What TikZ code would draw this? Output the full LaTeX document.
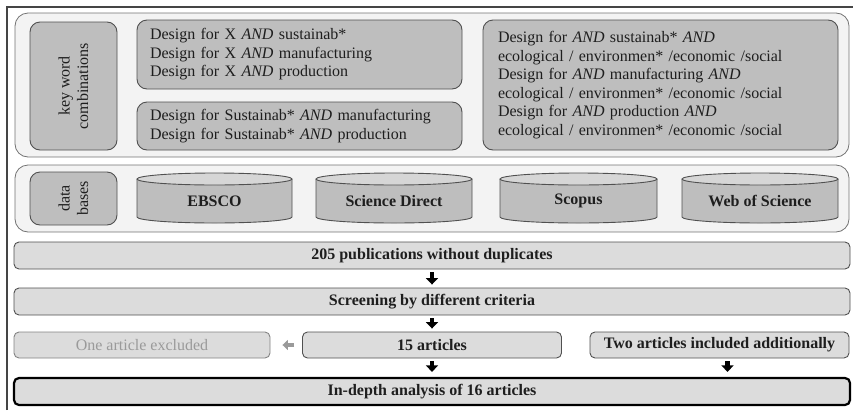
\documentclass[tikz,border=0pt]{standalone}
\usepackage{fontspec}
\setmainfont{Liberation Serif}
\usetikzlibrary{arrows.meta}
\definecolor{boxfill}{HTML}{BEBEBE}
\definecolor{panelfill}{HTML}{F3F3F3}
\definecolor{barfill}{HTML}{DCDCDC}
\definecolor{edge}{HTML}{505050}
\definecolor{txt}{HTML}{1E1E1E}
\definecolor{frame}{HTML}{454545}
\definecolor{cyltopfill}{HTML}{D6D6D6}
\definecolor{faded}{HTML}{9A9A9A}
\newcommand{\dbcyl}[4]{%
  \pgfmathsetmacro\cylmid{(#2+#3)/2}%
  \pgfmathsetmacro\cylrad{(#3-#2)/2}%
  \draw[cylbody] (#2,179) -- (#2,217) arc[start angle=180,end angle=0,x radius=\cylrad,y radius=6] -- (#3,179);
  \draw[cyltop] (\cylmid,179) ellipse[x radius=\cylrad, y radius=6];
  \node[dblabel] (#1) at (\cylmid,201) {#4};
}
\begin{document}
\begin{tikzpicture}[x=1pt,y=-1pt,
  font=\fontsize{16}{18.5}\selectfont,
  panel/.style={draw=edge!80, fill=panelfill, rounded corners=13pt, line width=0.8pt, inner sep=0pt},
  kbox/.style={draw=edge, fill=boxfill, rounded corners=10pt, line width=0.9pt, inner sep=0pt, text=txt},
  cylbody/.style={draw=edge, fill=boxfill, line width=0.9pt},
  cyltop/.style={draw=edge, fill=cyltopfill, line width=0.9pt},
  dblabel/.style={font=\fontsize{16}{18}\selectfont\bfseries, text=txt},
  bar/.style={draw=edge, fill=barfill, rounded corners=5pt, line width=0.9pt, inner sep=0pt, text=txt, font=\fontsize{16}{18}\selectfont\bfseries},
  arr/.style={line width=4.5pt, -{Triangle[width=12pt,length=6.5pt]}, black},
]
\useasboundingbox (0,0) rectangle (853,410);
\draw[frame, line width=1.6pt] (7,410) -- (7,7) -- (853,7);

% key word panel
\node[panel, minimum width=834pt, minimum height=144pt] (p1) at (432,85) {};
\node[kbox, rotate=90, minimum width=128pt, minimum height=87pt, align=center] (kw) at (73.5,86) {key word\\combinations};
\node[kbox, minimum width=325pt, minimum height=69pt, inner xsep=13pt, text width=299pt, align=left] (bA) at (299.5,54.5)
  {Design for X \textit{AND} sustainab*\\Design for X \textit{AND} manufacturing\\Design for X \textit{AND} production};
\node[kbox, minimum width=325pt, minimum height=48pt, inner xsep=13pt, text width=299pt, align=left] (bB) at (299.5,126)
  {Design for Sustainab* \textit{AND} manufacturing\\Design for Sustainab* \textit{AND} production};
\node[kbox, minimum width=355pt, minimum height=130pt, inner xsep=15pt, text width=325pt, align=left] (bC) at (660.5,85)
  {Design for \textit{AND} sustainab* \textit{AND}\\ecological / environmen* /economic /social\\Design for \textit{AND} manufacturing \textit{AND}\\ecological / environmen* /economic /social\\Design for \textit{AND} production \textit{AND}\\ecological / environmen* /economic /social};

% data bases panel
\node[panel, minimum width=834pt, minimum height=67pt] (p2) at (432,198.5) {};
\node[kbox, rotate=90, minimum width=53pt, minimum height=87pt, align=center] (db) at (73.5,198.5) {data\\bases};
\dbcyl{ebsco}{137}{292}{EBSCO}
\dbcyl{sd}{316}{472}{Science Direct}
\dbcyl{scopus}{500}{657}{Scopus}
\dbcyl{wos}{682}{838}{Web of Science}

% flow
\node[bar, minimum width=836pt, minimum height=27pt] (b1) at (432,255.5) {205 publications without duplicates};
\node[bar, minimum width=836pt, minimum height=27pt] (b2) at (432,301.5) {Screening by different criteria};
\node[bar, minimum width=256pt, minimum height=26pt, font=\fontsize{16}{18}\selectfont, text=faded, draw=edge!70] (excl) at (142,345) {One article excluded};
\node[bar, minimum width=259pt, minimum height=26pt] (fif) at (432,345) {15 articles};
\node[bar, minimum width=259pt, minimum height=26pt] (two) at (719.5,345) {Two articles included additionally};
\node[bar, minimum width=836pt, minimum height=27pt, draw=black, line width=2.2pt] (fin) at (432,391.5) {In-depth analysis of 16 articles};

\draw[arr, shorten <=3pt, shorten >=3pt] (b1.south) -- (b2.north);
\draw[arr, shorten <=3pt, shorten >=3pt] (b2.south) -- (fif.north);
\draw[arr, shorten <=3pt, shorten >=5pt] (fif.south) -- (fif.south |- fin.north);
\coordinate (twoarr) at ([xshift=8pt]two.south);
\draw[arr, shorten <=3pt, shorten >=5pt] (twoarr) -- (twoarr |- fin.north);
\draw[arr, faded, line width=3.5pt, -{Triangle[width=10pt,length=5.5pt]}, shorten <=8pt, shorten >=12pt] (fif.west) -- (excl.east);
\end{tikzpicture}
\end{document}
